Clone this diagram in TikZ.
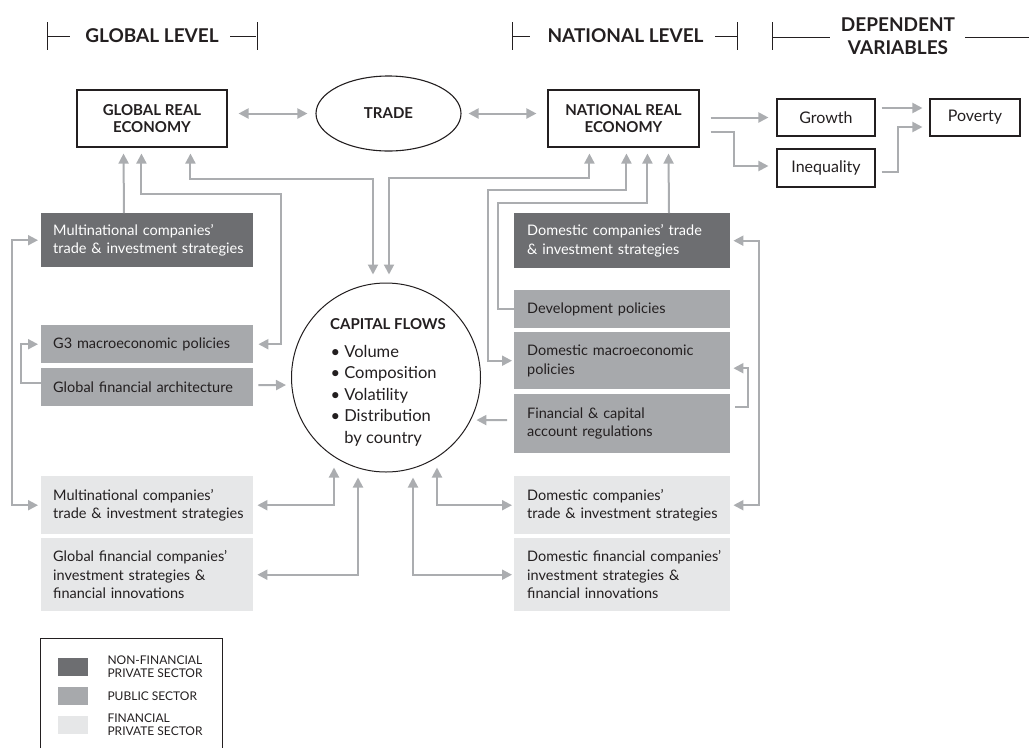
\documentclass[tikz,border=0pt]{standalone}
\usepackage{fontspec}
\setmainfont{Lato}
\usetikzlibrary{arrows.meta,calc,shapes.geometric}
\definecolor{dk}{HTML}{6D6E71}
\definecolor{md}{HTML}{A7A9AC}
\definecolor{lt}{HTML}{E6E7E8}
\definecolor{ln}{HTML}{ABADB0}
\definecolor{tx}{HTML}{231F20}
\newcommand{\oneln}[1]{\mbox{#1}}
\begin{document}
\begin{tikzpicture}[x=1pt,y=-1pt,
  every node/.style={text=tx},
  con/.style={draw=ln, line width=2pt, -{Triangle[length=10pt,width=10pt]}},
  dcon/.style={draw=ln, line width=2pt, {Triangle[length=10pt,width=10pt]}-{Triangle[length=10pt,width=10pt]}},
  hdr/.style={font=\fontsize{19}{23}\selectfont\bfseries, align=center},
  hline/.style={draw=tx, line width=1pt},
  topbox/.style={draw=tx, line width=1.1pt, rectangle, font=\fontsize{15}{16.5}\selectfont\bfseries, align=center, inner sep=0pt},
  depbox/.style={draw=tx, line width=1.1pt, rectangle, font=\fontsize{16}{18}\selectfont, inner sep=0pt},
  lbox/.style={rectangle, anchor=north west, inner xsep=12pt, inner ysep=0pt, text width=188pt, minimum width=212pt, align=left, font=\fontsize{14.5}{18.5}\selectfont},
  rbox/.style={rectangle, anchor=north west, inner xsep=13pt, inner ysep=0pt, text width=190pt, minimum width=216pt, align=left, font=\fontsize{14.5}{18.5}\selectfont},
  dkf/.style={fill=dk, text=white},
  mdf/.style={fill=md},
  ltf/.style={fill=lt},
  cft/.style={font=\fontsize{16.5}{20}\selectfont, anchor=base west},
  leg/.style={font=\fontsize{12}{13}\selectfont, anchor=west, align=left}
]
\useasboundingbox (0,0) rectangle (1029,748);

% ---------- headers ----------
\node[hdr] (hgl) at (152,36) {GLOBAL LEVEL};
\draw[hline] (47,22) -- (47,50) (47,36) -- (70,36);
\draw[hline] (230,36) -- (256,36) (257,22) -- (257,50);
\node[hdr] (hnl) at (625.5,36) {NATIONAL LEVEL};
\draw[hline] (512,22) -- (512,50) (512,36) -- (530,36);
\draw[hline] (715,36) -- (737,36) (737,22) -- (737,50);
\node[hdr] (hdv) at (898,36.5) {DEPENDENT\\VARIABLES};
\draw[hline] (772,22) -- (772,50) (772,37) -- (830,37);
\draw[hline] (965,37) -- (1029,37);

% ---------- top row ----------
\node[topbox, minimum width=150pt, minimum height=57pt] (gre) at (152,118.5) {GLOBAL REAL\\ECONOMY};
\node[draw=tx, line width=1.1pt, ellipse, minimum width=145pt, minimum height=75pt, inner sep=0pt, font=\fontsize{15}{16.5}\selectfont\bfseries] (trade) at (388.5,113.5) {TRADE};
\node[topbox, minimum width=151pt, minimum height=57pt] (nre) at (623.5,118.5) {NATIONAL REAL\\ECONOMY};
\node[depbox, minimum width=98pt, minimum height=37pt] (growth) at (826,117.5) {Growth};
\node[depbox, minimum width=98pt, minimum height=38pt] (ineq) at (826,168) {Inequality};
\node[depbox, minimum width=90pt, minimum height=37pt] (pov) at (975,117.5) {Poverty};

% ---------- left column ----------
\node[lbox, dkf, minimum height=54pt] (mnd) at (41,213) {\oneln{Multinational companies'}\\\oneln{trade \& investment strategies}};
\node[lbox, mdf, minimum height=38pt] (g3) at (41,325) {\oneln{G3 macroeconomic policies}};
\node[lbox, mdf, minimum height=38pt] (gfa) at (41,368) {\oneln{Global financial architecture}};
\node[lbox, ltf, minimum height=58pt] (mnl) at (41,476) {\oneln{Multinational companies'}\\\oneln{trade \& investment strategies}};
\node[lbox, ltf, minimum height=73pt] (gfc) at (41,538) {\oneln{Global financial companies'}\\\oneln{investment strategies \&}\\\oneln{financial innovations}};

% ---------- right column ----------
\node[rbox, dkf, minimum height=55pt] (dcd) at (514,213) {\oneln{Domestic companies' trade}\\\oneln{\& investment strategies}};
\node[rbox, mdf, minimum height=38pt] (dev) at (514,290) {\oneln{Development policies}};
\node[rbox, mdf, minimum height=57pt] (dmp) at (514,332) {\oneln{Domestic macroeconomic}\\\oneln{policies}};
\node[rbox, mdf, minimum height=59pt] (fcr) at (514,394) {\oneln{Financial \& capital}\\\oneln{account regulations}};
\node[rbox, ltf, minimum height=58pt] (dcl) at (514,476) {\oneln{Domestic companies'}\\\oneln{trade \& investment strategies}};
\node[rbox, ltf, minimum height=73pt] (dfc) at (514,538) {\oneln{Domestic financial companies'}\\\oneln{investment strategies \&}\\\oneln{financial innovations}};

% ---------- capital flows ----------
\node[draw=tx, line width=1pt, circle, minimum size=189pt, inner sep=0pt] (cf) at (386,377.5) {};
\node[font=\fontsize{15}{18}\selectfont\bfseries, anchor=base] (cft) at (388,329) {CAPITAL FLOWS};
\node[cft] (cf1) at (327,357) {• Volume};
\node[cft] (cf2) at (327,378.5) {• Composition};
\node[cft] (cf3) at (327,400) {• Volatility};
\node[cft] (cf4) at (327,421.5) {• Distribution};
\node[cft] (cf5) at (327,443) {\hphantom{• }by country};

% ---------- connectors ----------
\draw[dcon, shorten <=11pt, shorten >=8pt] (gre.east |- trade.west) -- (trade.west);
\draw[dcon, shorten <=7pt, shorten >=11pt] (trade.east) -- (trade.east -| nre.west);
\draw[con, shorten <=11pt, shorten >=8pt] (nre.east |- growth.west) -- (growth.west);
\draw[con, shorten >=8pt] ($(nre.east)+(11,13.5)$) -| ($(ineq.west)+(-42,-2)$) -- ($(ineq.west)+(0,-2)$);
\draw[con, shorten <=6pt, shorten >=7pt] ($(growth.east)+(0,-9.5)$) -- ($(pov.west)+(0,-9.5)$);
\draw[con, shorten >=7pt] ($(ineq.east)+(6,4)$) -- ++(16,0) |- ($(pov.west)+(0,9.5)$);

\draw[con, shorten >=6pt] ($(mnd.north west)+(83,0)$) -- ($(gre.south west)+(47,0)$);
\draw[dcon, shorten <=6pt, shorten >=5pt] ($(gre.south west)+(65,0)$) -- ++(0,46) -| ($(g3.east)+(28,0)$) -- (g3.east);
\draw[dcon, shorten <=6pt, shorten >=8pt] ($(gre.south west)+(114,0)$) -- ++(0,31) -| ($(cf.north)+(-13,0)$);
\draw[dcon, shorten <=6pt, shorten >=8pt] ($(nre.south west)+(42,0)$) -- ++(0,30) -| ($(cf.north)+(3,0)$);
\draw[dcon, shorten <=6pt, shorten >=2pt] ($(nre.south west)+(79,0)$) -- ++(0,42) -| ($(dmp.west)+(-26,0)$) -- (dmp.west);
\draw[con, shorten >=6pt] (dev.west) -- ++(-16,0) |- ($(nre.south west)+(100,55)$) -- ($(nre.south west)+(100,0)$);
\draw[con, shorten >=6pt] ($(dcd.north west)+(155,0)$) -- ($(nre.south west)+(121,0)$);

\draw[dcon, shorten <=3pt, shorten >=3pt] (mnd.west) -- ++(-29,0) |- (mnl.west);
\draw[con, shorten >=3pt] ($(gfa.west)+(0,-4)$) -- ++(-20,0) |- (g3.west);
\draw[con, shorten <=5pt, shorten >=5pt] ($(gfa.east)+(0,-2)$) -- ($(cf.west)+(0,7.5)$);
\draw[con, shorten <=7pt, shorten >=6pt] ($(fcr.west)+(0,-3.5)$) -- ($(cf.center)+(84.4,42.5)$);
\draw[dcon, shorten <=3pt, shorten >=3pt] (dcd.east) -- ++(29,0) |- (dcl.east);
\draw[con, shorten <=5pt, shorten >=3pt] ($(fcr.east)+(0,-16.5)$) -- ++(18,0) |- ($(dmp.east)+(0,7.5)$);

\draw[dcon, shorten <=4pt] (mnl.east) -| ($(cf.south)+(-52,-5)$);
\draw[dcon, shorten <=4pt] (gfc.east) -| ($(cf.south)+(-28,5)$);
\draw[dcon, shorten >=2pt] ($(cf.south)+(51,-5)$) |- (dcl.west);
\draw[dcon, shorten >=2pt] ($(cf.south)+(27,5)$) |- (dfc.west);

% ---------- legend ----------
\draw[draw=tx, line width=1pt] (40,748) -- (40,638) -- (222,638) -- (222,748);
\node[fill=dk, minimum width=30pt, minimum height=18pt, inner sep=0pt, anchor=north west] (l1) at (58,658) {};
\node[fill=md, minimum width=30pt, minimum height=18pt, inner sep=0pt, anchor=north west] (l2) at (58,687) {};
\node[fill=lt, minimum width=30pt, minimum height=18pt, inner sep=0pt, anchor=north west] (l3) at (58,716) {};
\node[leg] (t1) at (104,667) {NON-FINANCIAL\\PRIVATE SECTOR};
\node[leg] (t2) at (104,696) {PUBLIC SECTOR};
\node[leg] (t3) at (104,725) {FINANCIAL\\PRIVATE SECTOR};
\end{tikzpicture}
\end{document}
